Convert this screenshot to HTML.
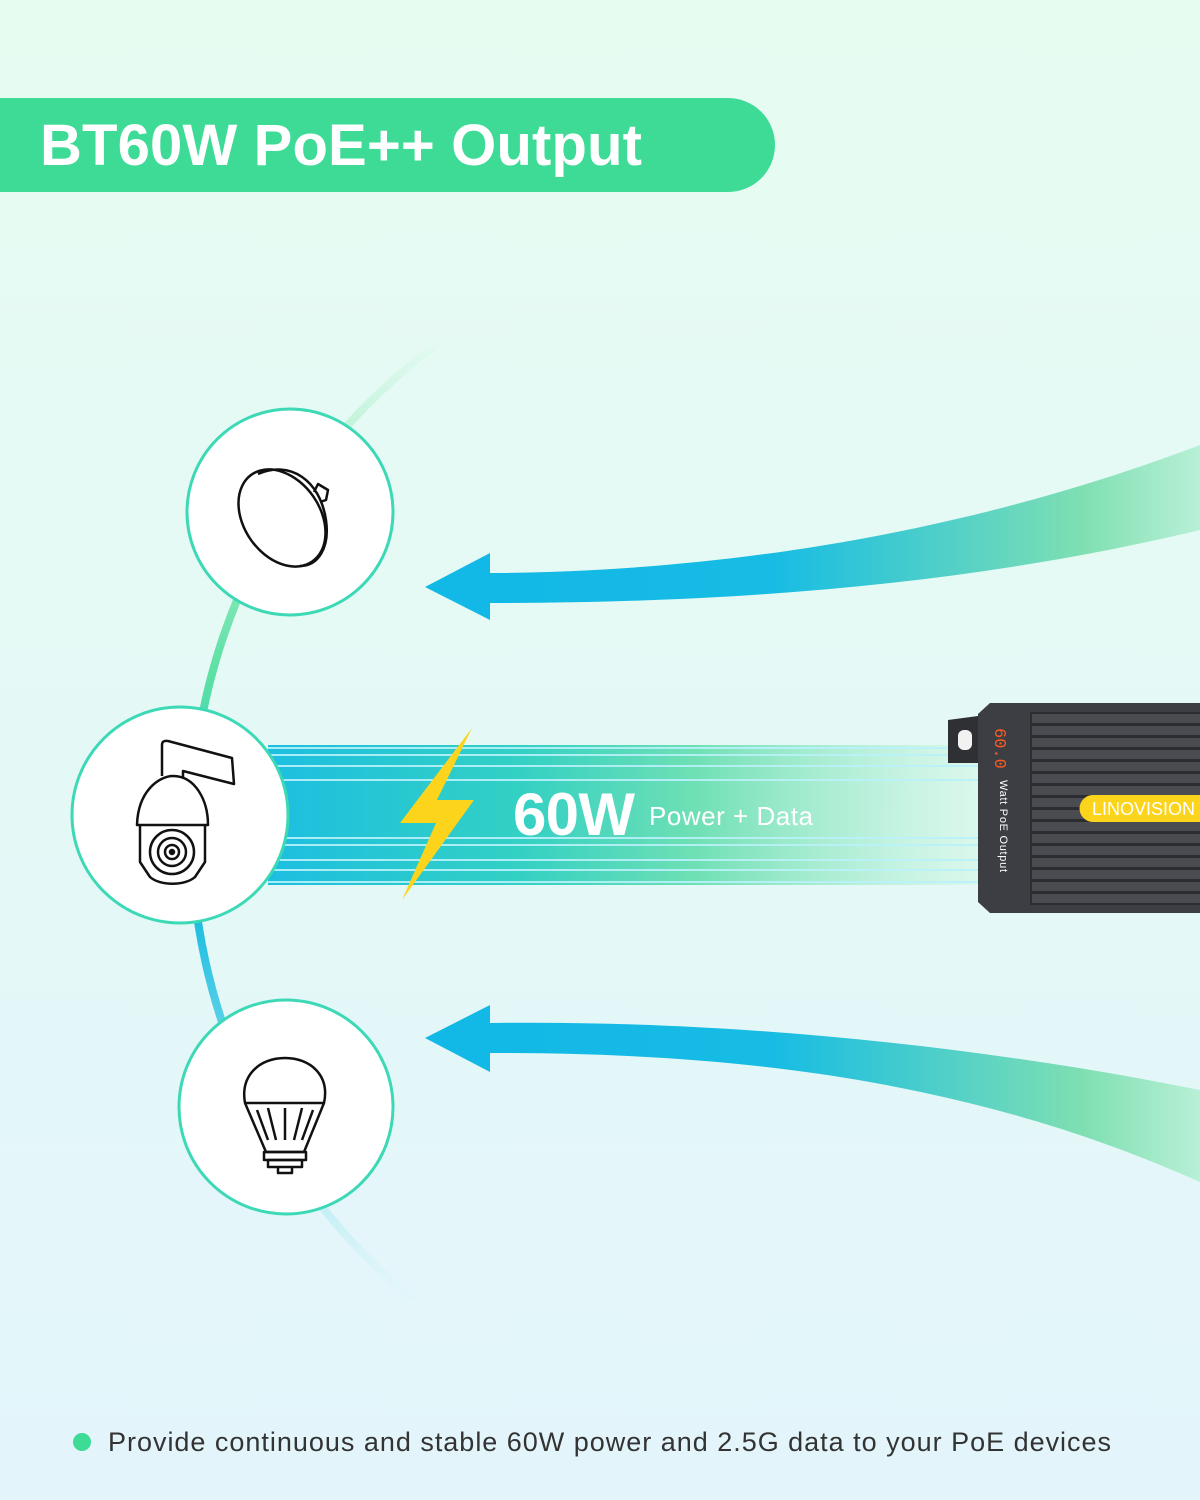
<!DOCTYPE html>
<html><head><meta charset="utf-8"><style>
html,body{margin:0;padding:0;width:1200px;height:1500px;overflow:hidden}
body{font-family:"Liberation Sans",sans-serif}
</style></head><body>
<svg width="1200" height="1500" viewBox="0 0 1200 1500" xmlns="http://www.w3.org/2000/svg">
<defs>
<linearGradient id="bg" x1="0" y1="0" x2="0" y2="1"><stop offset="0" stop-color="#e6fcf1"/><stop offset="1" stop-color="#e3f5fb"/></linearGradient>
<linearGradient id="arc" x1="0" y1="0" x2="0" y2="1">
<stop offset="0" stop-color="#c8f5de" stop-opacity="0"/><stop offset="0.1" stop-color="#bff3d8"/><stop offset="0.35" stop-color="#5de0a4"/><stop offset="0.6" stop-color="#1dbde0"/><stop offset="0.85" stop-color="#a6e8f3"/><stop offset="1" stop-color="#d0f3f8" stop-opacity="0"/></linearGradient>
<linearGradient id="arr" x1="420" y1="0" x2="1200" y2="0" gradientUnits="userSpaceOnUse">
<stop offset="0" stop-color="#12b8e6"/><stop offset="0.45" stop-color="#16bce4"/><stop offset="0.85" stop-color="#7fdfb2"/><stop offset="1" stop-color="#b8f0d6"/></linearGradient>
<linearGradient id="band" x1="270" y1="0" x2="980" y2="0" gradientUnits="userSpaceOnUse">
<stop offset="0" stop-color="#1cbfe0"/><stop offset="0.35" stop-color="#33d0c4"/><stop offset="0.6" stop-color="#6fe0b4"/><stop offset="1" stop-color="#d5f7e6" stop-opacity="0.6"/></linearGradient>
</defs>
<rect width="1200" height="1500" fill="url(#bg)"/>
<path d="M0 98 H728 A47 47 0 0 1 728 192 H0 Z" fill="#3ddb96"/>
<text x="40" y="165" font-size="58" font-weight="bold" fill="#fff" textLength="602">BT60W PoE++ Output</text>

<path d="M450 335 A605 605 0 0 0 420 1305" fill="none" stroke="url(#arc)" stroke-width="8"/>

<!-- arrows -->
<path d="M425 587 L490 553 L490 573 C700 572 950 540 1200 445 L1200 530 C950 590 700 603 490 603 L490 620 Z" fill="url(#arr)"/>
<path d="M425 1038 L490 1005 L490 1023 C700 1020 950 1040 1200 1090 L1200 1182 C950 1070 700 1053 490 1053 L490 1072 Z" fill="url(#arr)"/>

<!-- band -->
<rect x="268" y="745" width="712" height="140" fill="url(#band)"/>
<g stroke="#b9f2fb" stroke-width="2" opacity="0.9">
<line x1="268" y1="748" x2="980" y2="748"/><line x1="268" y1="755" x2="980" y2="755"/><line x1="268" y1="766" x2="980" y2="766"/><line x1="268" y1="780" x2="980" y2="780"/><line x1="268" y1="838" x2="980" y2="838"/><line x1="268" y1="845" x2="980" y2="845"/><line x1="268" y1="860" x2="980" y2="860"/><line x1="268" y1="870" x2="980" y2="870"/><line x1="268" y1="882" x2="980" y2="882"/></g>
<polygon points="472,728 437,800 474,800 402,900 436,823 400,823" fill="#fcd41c"/>
<text x="513" y="835" font-size="60" font-weight="bold" fill="#fff" textLength="122">60W</text>
<text x="649" y="825" font-size="26" fill="#fff" textLength="164">Power + Data</text>

<!-- device -->
<path d="M948 720 L978 716 L978 763 L948 763 Z" fill="#2e3034"/>
<rect x="958" y="730" width="14" height="20" rx="6" fill="#f2f2f2"/>
<path d="M990 703 H1200 V913 H990 L978 902 V714 Z" fill="#3c3e43"/>
<rect x="1030" y="712" width="170" height="193" fill="#2b2d31"/>
<g fill="#4a4c51">
<rect x="1032" y="714" width="168" height="9"/><rect x="1032" y="726" width="168" height="9"/><rect x="1032" y="738" width="168" height="9"/><rect x="1032" y="750" width="168" height="9"/><rect x="1032" y="762" width="168" height="9"/><rect x="1032" y="774" width="168" height="9"/><rect x="1032" y="786" width="168" height="9"/><rect x="1032" y="798" width="168" height="9"/><rect x="1032" y="810" width="168" height="9"/><rect x="1032" y="822" width="168" height="9"/><rect x="1032" y="834" width="168" height="9"/><rect x="1032" y="846" width="168" height="9"/><rect x="1032" y="858" width="168" height="9"/><rect x="1032" y="870" width="168" height="9"/><rect x="1032" y="882" width="168" height="9"/><rect x="1032" y="894" width="168" height="9"/></g>
<text transform="translate(995,728) rotate(90)" font-size="17" font-family="Liberation Mono,monospace" fill="#ff5a1f">60.0</text>
<text transform="translate(1000,780) rotate(90)" font-size="11" fill="#fff" textLength="92">Watt PoE Output</text>
<path d="M1093 795 H1200 V822 H1093 A13.5 13.5 0 0 1 1093 795 Z" fill="#fcd41c"/>
<text x="1092" y="815" font-size="18" fill="#fff">LINOVISION</text>

<!-- circles -->
<g fill="#fff" stroke="#3dd9b6" stroke-width="3">
<circle cx="290" cy="512" r="103"/><circle cx="180" cy="815" r="108"/><circle cx="286" cy="1107" r="107"/></g>

<!-- dish -->
<g fill="none" stroke="#111" stroke-width="2.5" stroke-linejoin="round">
<ellipse cx="282" cy="518" rx="38" ry="53" transform="rotate(-35 282 518)"/>
<path d="M258 474 C290 460 320 480 326 520 C330 548 318 566 300 566"/>
<path d="M314 492 L318 484 L328 490 L326 500 L320 502"/>
</g>
<!-- camera -->
<g fill="none" stroke="#111" stroke-width="2.5" stroke-linejoin="round">
<path d="M162 776 V745 Q162 740 168 741 L232 758 L234 784 L183 771 L183 778"/>
<path d="M137 825 C138 790 160 776 173 776 C195 776 208 800 208 825 Z"/>
<path d="M140 826 V862 L150 877 C160 886 185 886 195 877 L205 862 V826"/>
<circle cx="172" cy="852" r="22"/><circle cx="172" cy="852" r="14"/><circle cx="172" cy="852" r="7"/>
<circle cx="172" cy="852" r="2" fill="#111"/>
</g>
<!-- bulb -->
<g fill="none" stroke="#111" stroke-width="2.5" stroke-linejoin="round">
<path d="M245 1103 C240 1075 260 1058 285 1058 C310 1058 330 1075 324 1103 Z"/>
<path d="M245 1103 L266 1152 H304 L324 1103"/>
<path d="M257 1110 L268 1140 M268 1108 L276 1140 M285 1108 V1140 M302 1108 L294 1140 M313 1110 L302 1140"/>
<rect x="264" y="1152" width="42" height="8"/><rect x="268" y="1160" width="34" height="7"/>
<path d="M278 1167 V1173 H292 V1167"/>
</g>

<circle cx="82" cy="1442" r="9" fill="#3ddb96"/>
<text x="108" y="1451" font-size="27" fill="#333" textLength="1003">Provide continuous and stable 60W power and 2.5G data to your PoE devices</text>
</svg>
</body></html>
